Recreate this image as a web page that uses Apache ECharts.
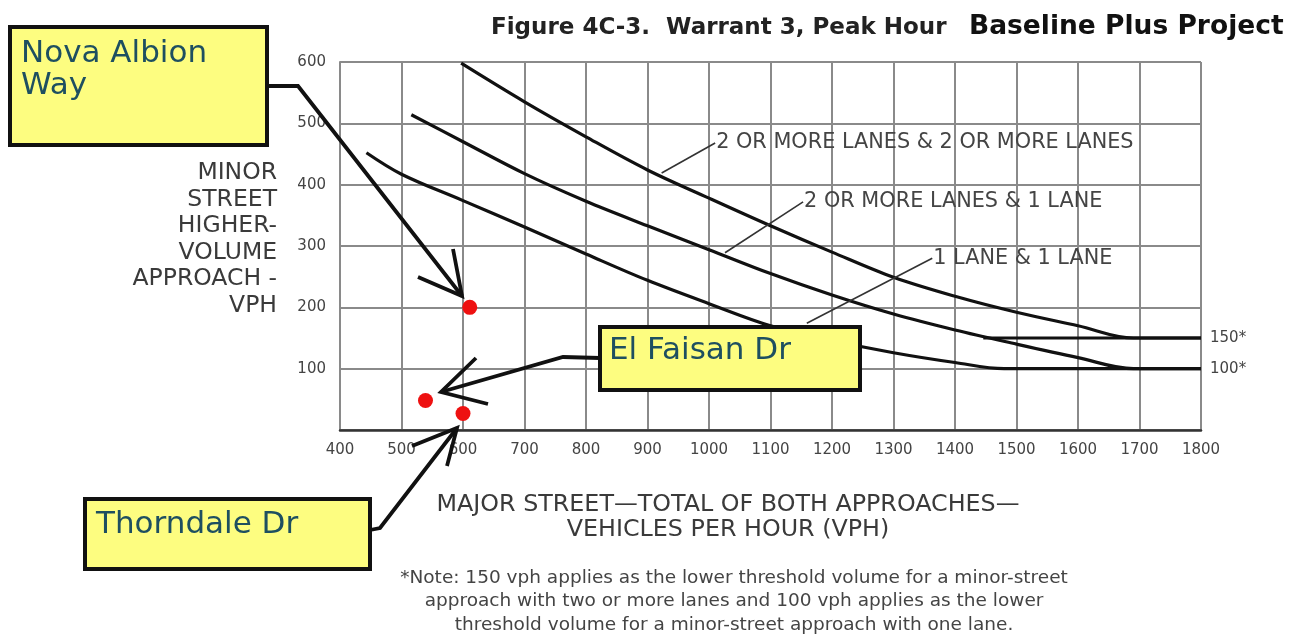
<!DOCTYPE html>
<html>
<head>
<meta charset="UTF-8">
<title>Figure 4C-3. Warrant 3, Peak Hour</title>
<script src="https://cdn.jsdelivr.net/npm/echarts@6/dist/echarts.min.js"></script>
<style>
html, body { margin: 0; padding: 0; background: #fff; }
#chartArea { width: 1299px; height: 634px; }
</style>
</head>
<body>
<div id="chartArea"></div>
<script type="text/javascript">
// curves (major street vph -> minor street vph)
var twoTwoX = [597, 700, 800, 900, 1000, 1100, 1200, 1300, 1400, 1500, 1600, 1690, 1800];
var twoTwoY = [598, 535, 478, 424, 378, 333, 290, 249, 218, 192, 170, 150, 150];

var twoOneX = [516, 600, 700, 800, 900, 1000, 1100, 1200, 1300, 1400, 1500, 1600, 1690, 1800];
var twoOneY = [514, 470, 418, 373, 333, 294, 255, 220, 189, 163, 140, 118, 100, 100];

var oneOneX = [443, 500, 600, 700, 800, 900, 1000, 1100, 1200, 1300, 1400, 1480, 1800];
var oneOneY = [452, 417, 374, 331, 287, 244, 206, 170, 146, 126, 110, 100, 100];

// 150 vph lower threshold segment
var threshX = [1446, 1800];
var threshY = [150, 150];

// study intersections
var siteNames = ['Nova Albion Way', 'El Faisan Dr', 'Thorndale Dr'];
var siteMajor = [611, 539, 600];
var siteMinor = [200, 48, 27];

var curveLabels = ['2 OR MORE LANES & 2 OR MORE LANES', '2 OR MORE LANES & 1 LANE', '1 LANE & 1 LANE'];
// leader lines: [point on curve, start of label]
var leaders = [
	[[923, 419], [1010, 468]],
	[[1026, 289], [1153, 372]],
	[[1159, 174], [1363, 280]]
];

var FONT = "'DejaVu Sans', sans-serif";

function pairs(xs, ys) {
	return xs.map(function(x, i) { return [x, ys[i]]; });
}

var myChart = echarts.init(document.getElementById('chartArea'));

var curveStyle = { color: '#111', width: 3.2 };

var series = [{
	name: curveLabels[0], type: 'line', data: pairs(twoTwoX, twoTwoY),
	smooth: 0.35, showSymbol: false, lineStyle: curveStyle, z: 3
}, {
	name: curveLabels[1], type: 'line', data: pairs(twoOneX, twoOneY),
	smooth: 0.35, showSymbol: false, lineStyle: curveStyle, z: 3
}, {
	name: curveLabels[2], type: 'line', data: pairs(oneOneX, oneOneY),
	smooth: 0.35, showSymbol: false, lineStyle: curveStyle, z: 3,
	endLabel: { show: true, formatter: '100*', distance: 9, color: '#444', fontFamily: FONT, fontSize: 15 }
}, {
	name: 'threshold', type: 'line', data: pairs(threshX, threshY),
	showSymbol: false, lineStyle: curveStyle, z: 3,
	endLabel: { show: true, formatter: '150*', distance: 9, color: '#444', fontFamily: FONT, fontSize: 15 }
}];

leaders.forEach(function(seg, i) {
	series.push({
		name: 'leader' + i, type: 'line', data: seg, showSymbol: false,
		lineStyle: { color: '#333', width: 1.6 }, z: 4,
		endLabel: { show: true, formatter: curveLabels[i], distance: 1, color: '#444', fontFamily: FONT, fontSize: 20.8 }
	});
});

series.push({
	name: 'sites', type: 'scatter', symbolSize: 15, z: 6,
	itemStyle: { color: '#ee1111', opacity: 1 },
	data: siteMajor.map(function(x, i) { return { name: siteNames[i], value: [x, siteMinor[i]] }; })
});

// yellow call-out boxes with arrows
function calloutBox(x, y, w, h) {
	return { type: 'rect', shape: { x: x, y: y, width: w, height: h }, style: { fill: '#fdfd80', stroke: '#111', lineWidth: 4 }, z: 100 };
}
function boxText(txt, x, y) {
	return { type: 'text', x: x, y: y, z: 101, style: { text: txt, fill: '#1e4f60', font: '31px ' + FONT, verticalAlign: 'middle', lineHeight: 32 } };
}
function arrow(points, wingA, tip, wingB) {
	return [
		{ type: 'polyline', shape: { points: points }, style: { stroke: '#111', lineWidth: 3.8, fill: null }, z: 99 },
		{ type: 'polyline', shape: { points: [wingA, tip, wingB] }, style: { stroke: '#111', lineWidth: 3.8, fill: null }, z: 99 }
	];
}

var graphics = [];
graphics.push(calloutBox(10, 27, 257, 118));
graphics.push(boxText('Nova Albion\nWay', 21, 70));
graphics = graphics.concat(arrow([[267, 86], [298, 86], [462, 296]], [453, 249], [462, 296], [418, 277]));

graphics.push(calloutBox(600, 327, 260, 63));
graphics.push(boxText('El Faisan Dr', 609, 351));
graphics = graphics.concat(arrow([[600, 358], [563, 357], [441, 392]], [476, 358], [441, 392], [488, 404]));

graphics.push(calloutBox(85, 499, 285, 70));
graphics.push(boxText('Thorndale Dr', 96, 525));
graphics = graphics.concat(arrow([[370, 530], [380, 528], [457, 428]], [412, 446], [457, 428], [447, 466]));

// axis titles and footnote
graphics.push({ type: 'text', x: 277, y: 160, z: 50, style: {
	text: 'MINOR\nSTREET\nHIGHER-\nVOLUME\nAPPROACH -\nVPH', align: 'right', fill: '#3a3a3a',
	font: '23.5px ' + FONT, lineHeight: 26.5 } });
graphics.push({ type: 'text', x: 728, y: 492, z: 50, style: {
	text: 'MAJOR STREET\u2014TOTAL OF BOTH APPROACHES\u2014\nVEHICLES PER HOUR (VPH)', align: 'center', fill: '#3a3a3a',
	font: '23.8px ' + FONT, lineHeight: 25 } });
graphics.push({ type: 'text', x: 734, y: 566, z: 50, style: {
	text: '*Note: 150 vph applies as the lower threshold volume for a minor-street\napproach with two or more lanes and 100 vph applies as the lower\nthreshold volume for a minor-street approach with one lane.',
	align: 'center', fill: '#444', font: '18.5px ' + FONT, lineHeight: 23.5 } });

var option = {
	animation: false,
	title: [{
		text: 'Figure 4C-3.  Warrant 3, Peak Hour', left: 486, top: 12,
		textStyle: { fontFamily: FONT, fontSize: 23, fontWeight: 'bold', color: '#222' }
	}, {
		text: 'Baseline Plus Project', left: 964, top: 9,
		textStyle: { fontFamily: FONT, fontSize: 26.5, fontWeight: 'bold', color: '#111' }
	}],
	grid: { left: 340, top: 62, right: 98, bottom: 204 },
	xAxis: {
		type: 'value', min: 400, max: 1800, interval: 100,
		axisLine: { lineStyle: { color: '#333', width: 2.5 } },
		axisTick: { show: false },
		axisLabel: { color: '#444', fontFamily: FONT, fontSize: 15, margin: 13,
			formatter: function(v) { return String(v); } },
		splitLine: { show: true, lineStyle: { color: '#8a8a8a', width: 2 } }
	},
	yAxis: {
		type: 'value', min: 0, max: 600, interval: 100,
		axisLine: { show: true, lineStyle: { color: '#8a8a8a', width: 2 } },
		axisTick: { show: false },
		axisLabel: { color: '#444', fontFamily: FONT, fontSize: 15, margin: 14,
			formatter: function(v) { return v === 0 ? '' : String(v); } },
		splitLine: { show: true, lineStyle: { color: '#8a8a8a', width: 2 } }
	},
	series: series,
	graphic: graphics
};

myChart.setOption(option);
</script>
</body>
</html>
